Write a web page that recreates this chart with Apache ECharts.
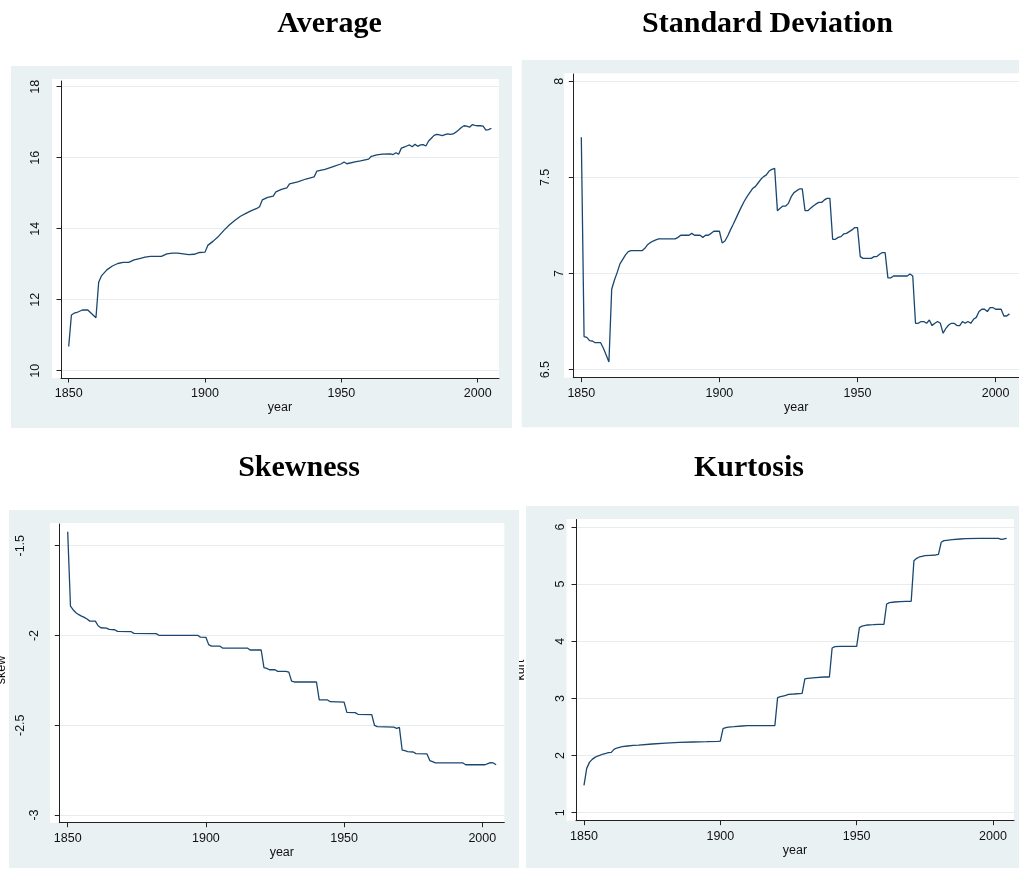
<!DOCTYPE html>
<html><head><meta charset="utf-8">
<script src="https://cdn.jsdelivr.net/npm/echarts@6/dist/echarts.min.js"></script>
<style>html,body{margin:0;padding:0;background:#fff}#c{width:1019px;height:869px}</style>
</head><body><div id="c"></div>
<script>
// ---------------- data ----------------
const yearTicks = [1850, 1900, 1950, 2000];
const avgTicks = [10, 12, 14, 16, 18];
const sdTicks = [6.5, 7, 7.5, 8];
const skewTicks = [-3, -2.5, -2, -1.5];
const kurtTicks = [1, 2, 3, 4, 5, 6];

const avgData = [[1850,10.68],[1851,11.57],[1852,11.62],[1853,11.64],[1855,11.71],[1857,11.71],[1860,11.49],[1861,12.49],[1862,12.67],[1864,12.84],[1866,12.95],[1868,13.02],[1870,13.05],[1872,13.05],[1874,13.12],[1876,13.16],[1878,13.20],[1880,13.22],[1884,13.22],[1886,13.29],[1888,13.31],[1890,13.31],[1894,13.27],[1896,13.28],[1898,13.33],[1900,13.34],[1901,13.53],[1903,13.65],[1905,13.79],[1907,13.96],[1909,14.11],[1911,14.24],[1913,14.35],[1915,14.43],[1917,14.51],[1919,14.57],[1920,14.62],[1921,14.81],[1923,14.88],[1925,14.92],[1926,15.04],[1928,15.11],[1930,15.15],[1931,15.26],[1934,15.32],[1937,15.40],[1940,15.46],[1941,15.62],[1944,15.67],[1947,15.75],[1950,15.83],[1951,15.88],[1952,15.83],[1955,15.88],[1957,15.91],[1960,15.96],[1961,16.04],[1963,16.08],[1965,16.10],[1968,16.11],[1969,16.09],[1970,16.14],[1971,16.10],[1972,16.27],[1973,16.30],[1974,16.33],[1975,16.36],[1976,16.31],[1977,16.38],[1978,16.32],[1979,16.36],[1980,16.37],[1981,16.33],[1982,16.47],[1983,16.55],[1984,16.63],[1985,16.66],[1986,16.64],[1987,16.62],[1988,16.65],[1989,16.67],[1990,16.66],[1991,16.67],[1992,16.72],[1993,16.78],[1994,16.85],[1995,16.90],[1996,16.89],[1997,16.86],[1998,16.93],[1999,16.91],[2000,16.90],[2001,16.90],[2002,16.89],[2003,16.78],[2004,16.79],[2005,16.83]];

const sdData = [[1850,7.709],[1851,6.672],[1852,6.668],[1853,6.651],[1854,6.649],[1855,6.640],[1857,6.640],[1858,6.611],[1859,6.576],[1860,6.540],[1861,6.918],[1862,6.966],[1863,7.006],[1864,7.050],[1865,7.074],[1866,7.097],[1867,7.114],[1868,7.119],[1872,7.119],[1873,7.131],[1874,7.150],[1875,7.161],[1876,7.169],[1877,7.175],[1878,7.180],[1884,7.180],[1885,7.188],[1886,7.199],[1889,7.199],[1890,7.209],[1891,7.199],[1893,7.199],[1894,7.188],[1895,7.199],[1896,7.199],[1897,7.209],[1898,7.220],[1900,7.220],[1901,7.159],[1902,7.169],[1903,7.195],[1904,7.227],[1905,7.256],[1906,7.287],[1907,7.318],[1908,7.348],[1909,7.376],[1910,7.400],[1911,7.421],[1912,7.442],[1913,7.452],[1914,7.471],[1915,7.490],[1916,7.504],[1917,7.513],[1918,7.533],[1919,7.542],[1920,7.547],[1921,7.327],[1922,7.339],[1923,7.351],[1924,7.351],[1925,7.365],[1926,7.400],[1927,7.421],[1928,7.431],[1929,7.440],[1930,7.440],[1931,7.327],[1932,7.327],[1933,7.339],[1934,7.351],[1935,7.362],[1936,7.370],[1937,7.370],[1938,7.383],[1939,7.391],[1940,7.391],[1941,7.178],[1942,7.178],[1943,7.188],[1944,7.192],[1945,7.206],[1946,7.209],[1947,7.218],[1948,7.227],[1949,7.239],[1950,7.239],[1951,7.088],[1952,7.079],[1955,7.079],[1956,7.088],[1957,7.088],[1958,7.100],[1959,7.109],[1960,7.109],[1961,6.977],[1962,6.977],[1963,6.987],[1968,6.987],[1969,6.998],[1970,6.987],[1971,6.741],[1972,6.741],[1973,6.750],[1974,6.750],[1975,6.741],[1976,6.758],[1977,6.729],[1978,6.741],[1979,6.750],[1980,6.741],[1981,6.689],[1982,6.715],[1983,6.732],[1984,6.741],[1985,6.741],[1986,6.729],[1987,6.729],[1988,6.750],[1989,6.741],[1990,6.750],[1991,6.741],[1992,6.762],[1993,6.772],[1994,6.802],[1995,6.814],[1996,6.814],[1997,6.802],[1998,6.823],[1999,6.823],[2000,6.814],[2001,6.814],[2002,6.814],[2003,6.779],[2004,6.779],[2005,6.790]];

const skewData = [[1850,-1.422],[1851,-1.836],[1852,-1.858],[1853,-1.873],[1854,-1.884],[1855,-1.892],[1856,-1.899],[1857,-1.908],[1858,-1.920],[1860,-1.920],[1861,-1.946],[1862,-1.957],[1864,-1.959],[1865,-1.966],[1867,-1.968],[1868,-1.977],[1873,-1.979],[1874,-1.988],[1882,-1.990],[1883,-1.999],[1897,-1.999],[1898,-2.009],[1900,-2.010],[1901,-2.051],[1902,-2.059],[1905,-2.059],[1906,-2.070],[1915,-2.070],[1916,-2.081],[1920,-2.081],[1921,-2.179],[1922,-2.183],[1923,-2.191],[1925,-2.191],[1926,-2.200],[1929,-2.200],[1930,-2.204],[1931,-2.254],[1932,-2.259],[1940,-2.259],[1941,-2.359],[1944,-2.359],[1945,-2.369],[1950,-2.371],[1951,-2.428],[1954,-2.430],[1955,-2.439],[1960,-2.441],[1961,-2.501],[1962,-2.508],[1968,-2.510],[1969,-2.517],[1970,-2.512],[1971,-2.638],[1972,-2.642],[1973,-2.647],[1975,-2.649],[1976,-2.658],[1980,-2.660],[1981,-2.697],[1982,-2.703],[1983,-2.710],[1993,-2.710],[1994,-2.720],[2001,-2.720],[2002,-2.714],[2003,-2.708],[2004,-2.710],[2005,-2.720]];

const kurtData = [[1850,1.478],[1851,1.776],[1852,1.881],[1853,1.933],[1854,1.968],[1855,1.992],[1856,2.009],[1857,2.027],[1858,2.038],[1859,2.050],[1860,2.056],[1861,2.109],[1862,2.132],[1863,2.144],[1864,2.155],[1866,2.167],[1868,2.179],[1870,2.184],[1875,2.202],[1880,2.219],[1885,2.231],[1890,2.237],[1895,2.243],[1899,2.249],[1900,2.254],[1901,2.470],[1902,2.488],[1903,2.499],[1905,2.505],[1908,2.517],[1910,2.523],[1920,2.523],[1921,3.013],[1922,3.030],[1923,3.042],[1924,3.054],[1925,3.071],[1927,3.077],[1930,3.089],[1931,3.340],[1932,3.351],[1935,3.363],[1938,3.375],[1940,3.375],[1941,3.882],[1942,3.905],[1944,3.911],[1950,3.911],[1951,4.238],[1952,4.267],[1954,4.285],[1956,4.290],[1958,4.296],[1960,4.296],[1961,4.652],[1962,4.676],[1964,4.687],[1966,4.693],[1968,4.699],[1970,4.699],[1971,5.411],[1972,5.452],[1973,5.475],[1974,5.487],[1975,5.498],[1977,5.504],[1979,5.510],[1980,5.522],[1981,5.732],[1982,5.761],[1983,5.767],[1985,5.778],[1988,5.790],[1990,5.796],[1995,5.802],[2002,5.802],[2003,5.784],[2004,5.790],[2005,5.802]];

const titles = ['Average', 'Standard Deviation', 'Skewness', 'Kurtosis'];
const xName = 'year';

// ---------------- layout / style ----------------
const LINE = '#1a476f', AX = '#222', GRIDC = '#e5edf0', BG = '#eaf1f3', TXT = '#111';
const FS = 12.5, SANS = 'Liberation Sans', SERIF = 'Liberation Serif';

const panels = [
  { data: avgData, ticks: avgTicks, grid: {left:61, top:81, width:438, height:297},
    x: [1847.18, 2007.81], y: [9.794, 18.161], margin: 18.6,
    bg: [11, 66, 501, 362], white: [52, 79, 447, 299] },
  { data: sdData, ticks: sdTicks, grid: {left:573.3, top:74, width:445.7, height:303.7},
    x: [1847.10, 2008.47], y: [6.458, 8.038], margin: 7.6,
    bg: [521.7, 60, 500, 367.3], white: [564, 73.3, 460, 304.4] },
  { data: skewData, ticks: skewTicks, grid: {left:59.3, top:524, width:445, height:298.7},
    x: [1846.96, 2007.96], y: [-3.0429, -1.379], margin: 18.6,
    bg: [9, 510, 510, 358], white: [50, 523, 454.3, 299.7] },
  { data: kurtData, ticks: kurtTicks, grid: {left:576, top:519.5, width:438, height:301.2},
    x: [1847.07, 2007.70], y: [0.860, 6.131], margin: 8.6,
    bg: [526, 506, 500, 362], white: [566.5, 519, 447.5, 301.7] }
];

const titlePos = [[329.5, 24], [767.5, 24.5], [299, 468.5], [749, 468.5]];

const grids = [], xAxes = [], yAxes = [], series = [], graphics = [];

graphics.push({ type:'text', x: 527.4, y: 670, rotation: Math.PI/2, z: -3,
  style: { text:'kurt', fontFamily:SANS, fontSize:FS, fill:TXT, align:'center', verticalAlign:'bottom', textAlign:'center', textVerticalAlign:'bottom' } });

panels.forEach((p, i) => {
  grids.push(Object.assign({ containLabel:false }, p.grid));
  graphics.push({ type:'rect', z:-2, shape:{x:p.bg[0], y:p.bg[1], width:p.bg[2], height:p.bg[3]}, style:{fill:BG} });
  graphics.push({ type:'rect', z:-1, shape:{x:p.white[0], y:p.white[1], width:p.white[2], height:p.white[3]}, style:{fill:'#fff'} });
  xAxes.push({
    type:'value', gridIndex:i, min:p.x[0], max:p.x[1], z:3,
    axisLine:{show:true, onZero:false, lineStyle:{color:AX, width:1}},
    axisTick:{show:true, length:4.5, customValues: yearTicks, lineStyle:{color:AX, width:1}},
    axisLabel:{show:true, customValues: yearTicks, margin:9, fontFamily:SANS, fontSize:FS, color:TXT,
      formatter: v => String(v)},
    splitLine:{show:false},
    name: xName, nameLocation:'middle', nameGap:21.5,
    nameTextStyle:{fontFamily:SANS, fontSize:FS, color:TXT}
  });
  yAxes.push({
    type:'value', gridIndex:i, min:p.y[0], max:p.y[1], z:3,
    axisLine:{show:true, onZero:false, lineStyle:{color:AX, width:1}},
    axisTick:{show:true, length:4.5, customValues: p.ticks, lineStyle:{color:AX, width:1}},
    axisLabel:{show:true, customValues: p.ticks, rotate:90, margin:p.margin,
      fontFamily:SANS, fontSize:FS, color:TXT,
      formatter: v => { const s = String(v); return s.indexOf('.') >= 0 ? '{w|' + s + '}' : '{n|' + s + '}'; },
      rich:{ w:{padding:[0,0,13.4,0], fontFamily:SANS, fontSize:FS, color:TXT},
             n:{fontFamily:SANS, fontSize:FS, color:TXT} } },
    splitLine:{show:true, lineStyle:{color:GRIDC, width:1.2}}
  });
  series.push({
    type:'line', xAxisIndex:i, yAxisIndex:i, data:p.data, showSymbol:false, symbol:'none',
    lineStyle:{color:LINE, width:1.3}, z:4, animation:false, silent:true
  });
  graphics.push({ type:'text', x:titlePos[i][0], y:titlePos[i][1], z:10,
    style:{ text:titles[i], fontFamily:SERIF, fontWeight:'bold', fontSize:30, fill:'#000',
      align:'center', verticalAlign:'middle', textAlign:'center', textVerticalAlign:'middle' } });
});

graphics.push({ type:'text', x: 8, y: 670, rotation: Math.PI/2, z: 10,
  style: { text:'skew', fontFamily:SANS, fontSize:FS, fill:TXT, align:'center', verticalAlign:'bottom', textAlign:'center', textVerticalAlign:'bottom' } });

const chart = echarts.init(document.getElementById('c'), null, {renderer:'canvas'});
chart.setOption({
  animation:false,
  backgroundColor:'#fff',
  grid: grids, xAxis: xAxes, yAxis: yAxes, series: series,
  graphic: { elements: graphics }
});
</script></body></html>
